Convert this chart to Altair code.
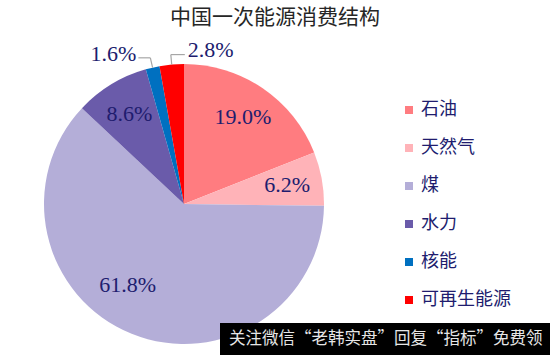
import altair as alt
import pandas as pd

categories = ["石油", "天然气", "煤", "水力", "核能", "可再生能源"]
shares = [19.0, 6.2, 61.8, 8.6, 1.6, 2.8]
pct_labels = ["19.0%", "6.2%", "61.8%", "8.6%", "1.6%", "2.8%"]
colors = ["#FF7C80", "#FFB3B8", "#B4AED8", "#6A5BAA", "#0070C0", "#FF0000"]
title_text = "中国一次能源消费结构"
watermark_text = "关注微信“老韩实盘”回复“指标”免费领"

df = pd.DataFrame({
    "category": categories,
    "share": shares,
    "label": pct_labels,
    "order": list(range(len(categories))),
})

CX, CY, R = 184, 204, 140
NAVY = "#201C6E"
PCT_FONT = "Liberation Serif"
CJK_FONT = "Noto Sans CJK SC"

base = alt.Chart(df)

pie = base.mark_arc(outerRadius=R, strokeWidth=0).encode(
    theta=alt.Theta("share:Q", stack=True),
    order=alt.Order("order:Q"),
    color=alt.Color(
        "category:N",
        scale=alt.Scale(domain=categories, range=colors),
        sort=categories,
        legend=alt.Legend(
            orient="none", legendX=400, legendY=101, title=None,
            symbolType="square", symbolSize=64, symbolStrokeWidth=0,
            labelFont=CJK_FONT, labelFontSize=18, labelColor=NAVY,
            labelOffset=3, rowPadding=20, padding=0,
        ),
    ),
    x=alt.value(CX),
    y=alt.value(CY),
)

angles = base.transform_window(
    cum="sum(share)", sort=[alt.SortField("order")], frame=[None, 0]
).transform_joinaggregate(
    total="sum(share)"
).transform_calculate(
    mid="2*PI*(datum.cum - datum.share/2)/datum.total"
)


def inside(cats, radius=105, dx=0, dy=0):
    return angles.transform_filter(
        alt.FieldOneOfPredicate(field="category", oneOf=cats)
    ).mark_text(
        radius=radius, dx=dx, dy=dy, align="center", baseline="middle",
        font=PCT_FONT, fontSize=22, color=NAVY,
    ).encode(
        theta=alt.Theta("mid:Q", scale=None, stack=False),
        text="label:N",
        x=alt.value(CX),
        y=alt.value(CY),
    )


lbl_main = inside(["石油", "天然气", "水力"])
lbl_coal = inside(["煤"], dx=-17, dy=-16)

leaders = angles.transform_filter(
    alt.FieldOneOfPredicate(field="category", oneOf=["核能", "可再生能源"])
).transform_calculate(
    ex=f"{CX} + {R}*sin(datum.mid)",
    ey=f"{CY} - {R}*cos(datum.mid)",
    kx=f"{CX} + 150*sin(datum.mid)",
    ky=f"{CY} - 150*cos(datum.mid)",
    hx="datum.kx + (datum.category == '核能' ? -12 : 14)",
)

rule_a = leaders.mark_rule(color="#A6A6A6", strokeWidth=1.2).encode(
    x=alt.X("ex:Q", scale=None, axis=None),
    y=alt.Y("ey:Q", scale=None, axis=None),
    x2="kx:Q",
    y2="ky:Q",
)
rule_b = leaders.mark_rule(color="#A6A6A6", strokeWidth=1.2).encode(
    x=alt.X("kx:Q", scale=None, axis=None),
    y=alt.Y("ky:Q", scale=None, axis=None),
    x2="hx:Q",
    y2="ky:Q",
)

lbl_nuc = leaders.transform_filter(alt.datum.category == "核能").mark_text(
    align="right", baseline="middle", dx=-2, dy=-4,
    font=PCT_FONT, fontSize=22, color=NAVY,
).encode(
    x=alt.X("hx:Q", scale=None, axis=None),
    y=alt.Y("ky:Q", scale=None, axis=None),
    text="label:N",
)
lbl_ren = leaders.transform_filter(alt.datum.category == "可再生能源").mark_text(
    align="left", baseline="middle", dx=3, dy=-5,
    font=PCT_FONT, fontSize=22, color=NAVY,
).encode(
    x=alt.X("hx:Q", scale=None, axis=None),
    y=alt.Y("ky:Q", scale=None, axis=None),
    text="label:N",
)

title = alt.Chart(pd.DataFrame({"t": [title_text]})).mark_text(
    font=CJK_FONT, fontSize=21, color="#262626", align="center", baseline="middle",
).encode(text="t:N", x=alt.value(275), y=alt.value(18))

wm_box = alt.Chart(pd.DataFrame({"t": [watermark_text]})).mark_rect(color="#000000").encode(
    x=alt.value(220), x2=alt.value(550), y=alt.value(323), y2=alt.value(355)
)
wm_text = alt.Chart(pd.DataFrame({"t": [watermark_text]})).mark_text(
    font=CJK_FONT, fontSize=16.5, color="#E6E6E6", align="left", baseline="middle",
).encode(text="t:N", x=alt.value(229), y=alt.value(339))

chart = alt.layer(
    pie, lbl_main, lbl_coal, rule_a, rule_b, lbl_nuc, lbl_ren, title, wm_box, wm_text
).resolve_scale(
    theta="independent", x="independent", y="independent"
).properties(
    width=550, height=355,
    autosize=alt.AutoSizeParams(type="none"),
    padding=0,
).configure_view(stroke=None)

chart.save("out.html", embed_options={"renderer": "svg", "actions": False})
